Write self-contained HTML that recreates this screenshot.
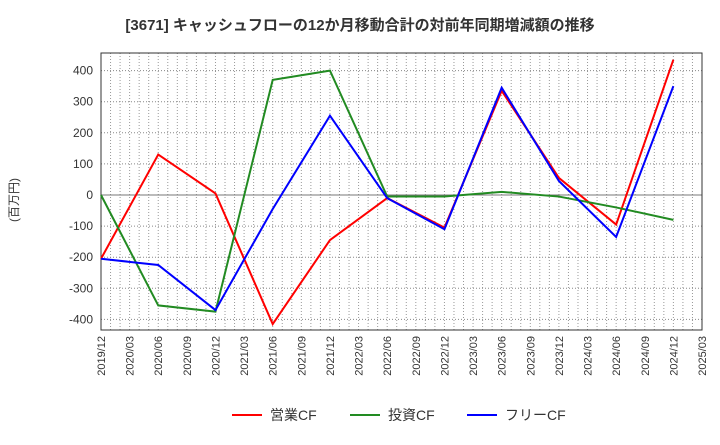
<!DOCTYPE html>
<html><head><meta charset="utf-8"><style>body{margin:0;background:#fff}svg text{font-family:"Liberation Sans","Noto Sans CJK JP",sans-serif}</style></head>
<body>
<svg id="c" width="720" height="440" xmlns="http://www.w3.org/2000/svg">
<text x="360" y="30" text-anchor="middle" font-size="15" font-weight="bold" fill="#333">[3671]  キャッシュフローの12か月移動合計の対前年同期増減額の推移</text>
<text transform="translate(18,200) rotate(-90)" text-anchor="middle" font-size="12" fill="#333">(百万円)</text>
<g id="grid"></g><g id="axes"></g><g id="series"></g>
<g>
<line x1="232" y1="415" x2="262" y2="415" stroke="#f00" stroke-width="2"/><text x="270" y="420" font-size="14" fill="#333">営業CF</text>
<line x1="350" y1="415" x2="380" y2="415" stroke="#228b22" stroke-width="2"/><text x="388" y="420" font-size="14" fill="#333">投資CF</text>
<line x1="467" y1="415" x2="497" y2="415" stroke="#00f" stroke-width="2"/><text x="505" y="420" font-size="14" fill="#333">フリーCF</text>
</g>
</svg>
<script>
const xLabels=["2019/12","2020/03","2020/06","2020/09","2020/12","2021/03","2021/06","2021/09","2021/12","2022/03","2022/06","2022/09","2022/12","2023/03","2023/06","2023/09","2023/12","2024/03","2024/06","2024/09","2024/12","2025/03"];
const yTicks=[-400,-300,-200,-100,0,100,200,300,400];
const pointIdx=[0,2,4,6,8,10,12,14,16,18,20];
const operatingCF=[-205,130,5,-415,-145,-10,-105,335,55,-95,435];
const investingCF=[0,-355,-375,370,400,-5,-5,10,-5,-40,-80];
const freeCF=[-205,-225,-370,-45,255,-10,-110,345,45,-135,350];
const L=101,R=702,T=53,B=330;
const X=i=>L+(R-L)*i/21;
const Y=v=>195-v*0.311;
const ns="http://www.w3.org/2000/svg";
function mk(p,t,a){const e=document.createElementNS(ns,t);for(const k in a)e.setAttribute(k,a[k]);p.appendChild(e);return e;}
const g=document.getElementById('grid'),ax=document.getElementById('axes'),s=document.getElementById('series');
for(let m=1;m<63;m++){const x=L+(R-L)*m/63;const l=mk(g,'line',{x1:x,x2:x,y1:T,y2:B,stroke:'#999','stroke-dasharray':'1,2','stroke-width':1});

}
yTicks.forEach(v=>{const l=mk(g,'line',{x1:L,x2:R,y1:Y(v),y2:Y(v),stroke:v===0?'#777':'#888','stroke-dasharray':v===0?'':'1,2','stroke-width':1});


const t=mk(ax,'text',{x:L-8,y:Y(v)+4,'text-anchor':'end','font-size':12,fill:'#333'});t.textContent=v;

});
const fr=mk(ax,'rect',{x:L,y:T,width:R-L,height:B-T,fill:'none',stroke:'#333'});


xLabels.forEach((lb,i)=>{const t=mk(ax,'text',{transform:`translate(${X(i)+4},${B+6}) rotate(-90)`,'text-anchor':'end','font-size':11,fill:'#333'});t.textContent=lb;

});
[[operatingCF,'#f00','operating-cf-line'],[investingCF,'#228b22','investing-cf-line'],[freeCF,'#00f','free-cf-line']].forEach(([d,c,n])=>{
const p=mk(s,'polyline',{points:d.map((v,i)=>X(pointIdx[i])+','+Y(v)).join(' '),fill:'none',stroke:c,'stroke-width':2});

});
</script>
</body></html>
